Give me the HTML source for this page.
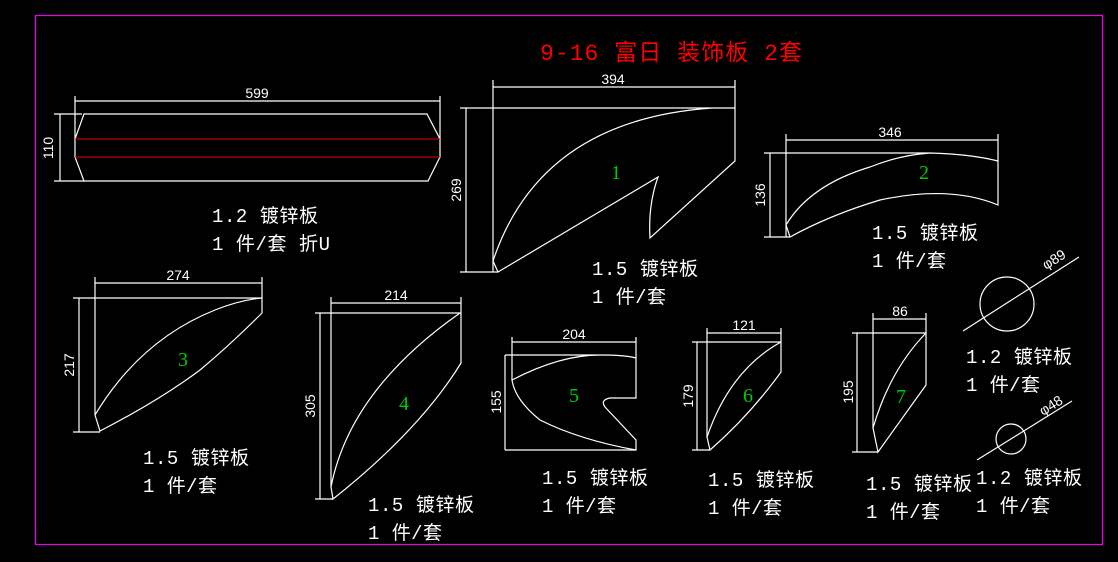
<!DOCTYPE html>
<html><head><meta charset="utf-8"><style>
html,body{margin:0;padding:0;background:#000;}
svg{display:block;}
.l{stroke:#fff;stroke-width:1.2;fill:none;}
.d{fill:#fff;font-family:"Liberation Sans",sans-serif;font-size:14px;}
.t{fill:#fff;font-family:"Liberation Mono","Noto Sans CJK SC",monospace;font-size:19px;}
.g{fill:#0c0;font-family:"Liberation Serif",serif;font-size:20px;}
</style></head><body>
<svg width="1118" height="562" viewBox="0 0 1118 562" xmlns="http://www.w3.org/2000/svg">
<rect x="0" y="0" width="1118" height="562" fill="#000"/>
<rect x="35.5" y="15.5" width="1067" height="529" fill="none" stroke="#e0e" stroke-width="1.2"/>
<text x="540" y="60" fill="#f00" font-family="Liberation Mono,'Noto Sans CJK SC',monospace" font-size="23" textLength="262">9-16 富日 装饰板 2套</text>

<!-- Shape top-left -->
<g class="l">
<path d="M75 96V139M440 96V139M75 101H440"/>
<path d="M84 114H427L440 139V157L428 181H84L75 157V139Z"/>
<path d="M54 114H82M54 181H84M60 114V181"/>
</g>
<path d="M75 139H440M75 157H440" stroke="#e00" stroke-width="1"/>
<text class="d" x="257" y="98" text-anchor="middle">599</text>
<text class="d" transform="translate(53,148) rotate(-90)" text-anchor="middle">110</text>
<text class="t" x="212" y="222" textLength="106">1.2 镀锌板</text>
<text class="t" x="212" y="250" textLength="118">1 件/套 折U</text>

<!-- Shape 1 -->
<g class="l">
<path d="M493 80V272M735 80V108M493 87H735"/>
<path d="M460 108H735V161L650 238Q648 205 658 177L498 272L493 261Q540 120 712 108"/>
<path d="M460 272H498M466 108V272"/>
</g>
<text class="d" x="613" y="84" text-anchor="middle">394</text>
<text class="d" transform="translate(461,190) rotate(-90)" text-anchor="middle">269</text>
<text class="g" x="611" y="179">1</text>
<text class="t" x="592" y="275" textLength="106">1.5 镀锌板</text>
<text class="t" x="592" y="303" textLength="74">1 件/套</text>

<!-- Shape 2 -->
<g class="l">
<path d="M786 134V237M998 134V161M786 140H998"/>
<path d="M764 153H930Q970 154 998 161V205Q950 185 880 200Q830 215 790 237L786 225Q810 185 870 167Q900 155 930 153"/>
<path d="M764 237H790M770 153V237"/>
</g>
<text class="d" x="890" y="137" text-anchor="middle">346</text>
<text class="d" transform="translate(765,195) rotate(-90)" text-anchor="middle">136</text>
<text class="g" x="919" y="179">2</text>
<text class="t" x="872" y="239" textLength="106">1.5 镀锌板</text>
<text class="t" x="872" y="267" textLength="74">1 件/套</text>

<!-- Shape 3 -->
<g class="l">
<path d="M95 277V298M262 277V298M95 283H262"/>
<path d="M73 298H262V313Q230 345 200 370Q160 400 100 431L95 415Q140 340 215 310Q240 300 262 298M95 298V415"/>
<path d="M73 432H100M79 298V432"/>
</g>
<text class="d" x="178" y="280" text-anchor="middle">274</text>
<text class="d" transform="translate(74,365) rotate(-90)" text-anchor="middle">217</text>
<text class="g" x="178" y="366">3</text>
<text class="t" x="143" y="464" textLength="106">1.5 镀锌板</text>
<text class="t" x="143" y="492" textLength="74">1 件/套</text>

<!-- Shape 4 -->
<g class="l">
<path d="M331 297V313M461 297V313M331 303H461"/>
<path d="M315 313H461V363Q420 430 333 499L331 487Q350 390 460 313M331 313V487"/>
<path d="M315 499H333M320 313V499"/>
</g>
<text class="d" x="396" y="300" text-anchor="middle">214</text>
<text class="d" transform="translate(315,406) rotate(-90)" text-anchor="middle">305</text>
<text class="g" x="399" y="410">4</text>
<text class="t" x="368" y="511" textLength="106">1.5 镀锌板</text>
<text class="t" x="368" y="539" textLength="74">1 件/套</text>

<!-- Shape 5 -->
<g class="l">
<path d="M512 337V380M636 337V358M512 342H636"/>
<path d="M505 355H600Q625 355 636 358V398H610Q600 400 605 407L636 440V450Q580 440 540 420Q515 400 512 380Q560 355 600 355"/>
<path d="M505 450H636M505 355V450"/>
</g>
<text class="d" x="574" y="339" text-anchor="middle">204</text>
<text class="d" transform="translate(501,402) rotate(-90)" text-anchor="middle">155</text>
<text class="g" x="569" y="402">5</text>
<text class="t" x="542" y="484" textLength="106">1.5 镀锌板</text>
<text class="t" x="542" y="512" textLength="74">1 件/套</text>

<!-- Shape 6 -->
<g class="l">
<path d="M707 328V437M781 328V342M707 333H781"/>
<path d="M692 342H781V372Q750 415 710 450L707 437Q730 370 781 342"/>
<path d="M692 450H710M697 342V450"/>
</g>
<text class="d" x="744" y="330" text-anchor="middle">121</text>
<text class="d" transform="translate(693,396) rotate(-90)" text-anchor="middle">179</text>
<text class="g" x="743" y="402">6</text>
<text class="t" x="708" y="486" textLength="106">1.5 镀锌板</text>
<text class="t" x="708" y="514" textLength="74">1 件/套</text>

<!-- Shape 7 -->
<g class="l">
<path d="M873 313V428M926 313V333M873 319H926"/>
<path d="M852 333H926V385L878 452L873 428Q890 370 926 333"/>
<path d="M852 452H878M857 333V452"/>
</g>
<text class="d" x="900" y="316" text-anchor="middle">86</text>
<text class="d" transform="translate(853,392) rotate(-90)" text-anchor="middle">195</text>
<text class="g" x="896" y="403">7</text>
<text class="t" x="866" y="490" textLength="106">1.5 镀锌板</text>
<text class="t" x="866" y="518" textLength="74">1 件/套</text>

<!-- Circles -->
<g class="l">
<circle cx="1007" cy="304" r="27"/>
<path d="M963 331L1079 257"/>
<circle cx="1011" cy="439" r="15"/>
<path d="M977 460L1072 401"/>
</g>
<text class="d" transform="translate(1046,270) rotate(-32)">φ89</text>
<text class="d" transform="translate(1043,416) rotate(-32)">φ48</text>
<text class="t" x="966" y="363" textLength="106">1.2 镀锌板</text>
<text class="t" x="966" y="391" textLength="74">1 件/套</text>
<text class="t" x="976" y="484" textLength="106">1.2 镀锌板</text>
<text class="t" x="976" y="512" textLength="74">1 件/套</text>
</svg>
</body></html>
